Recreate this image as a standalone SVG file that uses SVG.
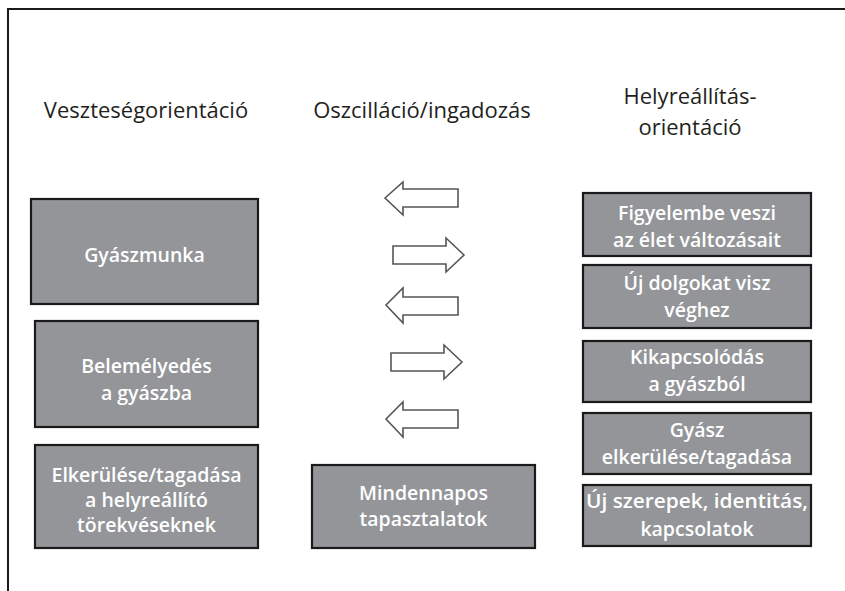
<svg xmlns="http://www.w3.org/2000/svg" width="845" height="591" viewBox="0 0 845 591">
<style>
.box{fill:#939598;stroke:#1a1a1a;stroke-width:2.2}
.bt{font-family:"Open Sans","Liberation Sans",sans-serif;font-weight:600;font-size:19.5px;fill:#ffffff;text-anchor:middle}
.hd{font-family:"Open Sans","Liberation Sans",sans-serif;font-size:22px;fill:#231f20;text-anchor:middle}
.arr{fill:#ffffff;stroke:#555555;stroke-width:1.6;stroke-linejoin:miter}
</style>
<rect width="845" height="591" fill="#ffffff"/>
<path d="M8 591 V9 H845" fill="none" stroke="#1a1a1a" stroke-width="2"/>
<g id="headings">
<text class="hd" x="146" y="118">Veszteségorientáció</text>
<text class="hd" x="422" y="118">Oszcilláció/ingadozás</text>
<text class="hd" x="690" y="104">Helyreállítás-</text>
<text class="hd" x="690" y="135">orientáció</text>
</g>
<g id="n-gyaszmunka"><rect class="box" x="31" y="199" width="227" height="105"/><text class="bt" x="144.5" y="262">Gyászmunka</text></g>
<g id="n-belemelyedes"><rect class="box" x="35" y="321" width="223" height="106"/><text class="bt" x="146.5" y="373">Belemélyedés</text><text class="bt" x="146.5" y="400">a gyászba</text></g>
<g id="n-elkerulese"><rect class="box" x="35" y="445" width="223" height="103"/><text class="bt" x="146.5" y="482">Elkerülése/tagadása</text><text class="bt" x="146.5" y="507">a helyreállító</text><text class="bt" x="146.5" y="532">törekvéseknek</text></g>
<g id="n-mindennapos"><rect class="box" x="312" y="465" width="223" height="83"/><text class="bt" x="423.5" y="500">Mindennapos</text><text class="bt" x="423.5" y="526">tapasztalatok</text></g>
<g id="n-figyelembe"><rect class="box" x="583" y="193" width="228" height="63"/><text class="bt" x="697" y="220">Figyelembe veszi</text><text class="bt" x="697" y="247">az élet változásait</text></g>
<g id="n-uj-dolgokat"><rect class="box" x="583" y="265" width="228" height="63"/><text class="bt" x="697" y="290">Új dolgokat visz</text><text class="bt" x="697" y="317">véghez</text></g>
<g id="n-kikapcsolodas"><rect class="box" x="583" y="341" width="228" height="61"/><text class="bt" x="697" y="364">Kikapcsolódás</text><text class="bt" x="697" y="391">a gyászból</text></g>
<g id="n-gyasz-elkerulese"><rect class="box" x="583" y="413" width="228" height="61"/><text class="bt" x="697" y="437">Gyász</text><text class="bt" x="697" y="464">elkerülése/tagadása</text></g>
<g id="n-uj-szerepek"><rect class="box" x="583" y="485" width="228" height="61"/><text class="bt" x="697" y="508" textLength="222" lengthAdjust="spacingAndGlyphs">Új szerepek, identitás,</text><text class="bt" x="697" y="536">kapcsolatok</text></g>
<g id="connectors">
<polygon class="arr" points="385,198 403,182 403,189 458,189 458,207 403,207 403,215"/>
<polygon class="arr" points="464,255 446,238 446,246 393,246 393,264 446,264 446,272"/>
<polygon class="arr" points="386,305 403,288 403,297 458,297 458,315 403,315 403,323"/>
<polygon class="arr" points="462,362 444,345 444,353 391,353 391,371 444,371 444,379"/>
<polygon class="arr" points="386,419 403,402 403,410 458,410 458,428 403,428 403,437"/>
</g>
</svg>
